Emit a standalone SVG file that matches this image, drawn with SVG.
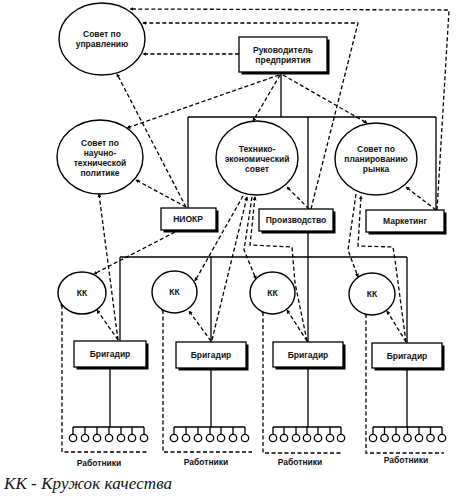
<svg xmlns="http://www.w3.org/2000/svg" width="456" height="497" viewBox="0 0 456 497">
<defs>
<marker id="a" viewBox="0 0 6 6" refX="5" refY="3" markerWidth="4" markerHeight="4" orient="auto" markerUnits="userSpaceOnUse"><path d="M0,0 L6,3 L0,6 Z" fill="#000"/></marker>
</defs>
<style>
.e{fill:#fff;stroke:#000;stroke-width:1.4}
.b{fill:#fff;stroke:#000;stroke-width:1.3}
.sh{fill:#000}
.s{fill:none;stroke:#000;stroke-width:1.3}
.d{fill:none;stroke:#000;stroke-width:1.3;stroke-dasharray:4 2.5}
.da{fill:none;stroke:#000;stroke-width:1.3;stroke-dasharray:4 2.5;marker-end:url(#a)}
.t{font-family:"Liberation Sans",Arial,sans-serif;font-weight:bold;font-size:8.5px;text-anchor:middle;fill:#111}
.w{fill:#fff;stroke:#000;stroke-width:1.3}
</style>
<rect width="456" height="497" fill="#fff"/>
<g id="connectors">
<path class="s" d="M281,72 V117 M188,117 H436 M188,117 V208 M308,117 V209 M436,117 V210 M308,231 V342 M120,257 H407 M120,257 V341 M211,257 V342 M407,257 V343"/>
<path class="s" d="M110,367 V427 M73,427 H144 M211,368 V427 M174,427 H245 M308,367 V427 M273,427 H341 M407,368 V427 M373,427 H442"/>
<path class="da" d="M437,210 L449,10 L130,9"/>
<path class="da" d="M311,209 L358,23 L143,23"/>
<path class="da" d="M239,54 L143,54"/>
<path class="da" d="M186,207 L117,74"/>
<path class="da" d="M279,75 L127,128"/>
<path class="da" d="M280,75 L253,121"/>
<path class="da" d="M283,75 L367,123"/>
<path class="da" d="M186,207 L136,180"/>
<path class="da" d="M118,340 L99,194"/>
<path class="da" d="M175,232 L94,274"/>
<path class="da" d="M118,340 L97,310"/>
<path class="da" d="M243,196 L195,281"/>
<path class="da" d="M212,340 L247,197"/>
<path class="da" d="M252,197 L244,250 L256,279"/>
<path class="da" d="M307,341 L295,283 L292,247 L250,245 L255,197"/>
<path class="da" d="M309,209 L287,187"/>
<path class="da" d="M356,194 L348,250 L358,277"/>
<path class="da" d="M406,342 L395,260 L393,247 L358,246 L361,196"/>
<path class="da" d="M436,210 L406,187"/>
<path class="da" d="M211,341 L189,311"/>
<path class="da" d="M307,341 L287,310"/>
<path class="da" d="M406,342 L387,311"/>
<path class="d" d="M62,305 V452 H148 M163,310 V452 H252 M263,312 V453 H343 M366,314 V453 H444"/>
<circle cx="62" cy="305" r="1.6"/>
<circle cx="163" cy="310" r="1.6"/>
<circle cx="263" cy="312" r="1.6"/>
<circle cx="366" cy="314" r="1.6"/>
</g>
<g id="sovet-upravlenie">
<ellipse class="e" cx="102" cy="39" rx="43" ry="36"/>
<text class="t" x="102" y="37">Совет по</text>
<text class="t" x="102" y="47">управлению</text>
</g>
<g id="rukovoditel">
<rect class="sh" x="241.5" y="39.5" width="88" height="35"/>
<rect class="b" x="239" y="37" width="88" height="35"/>
<text class="t" x="283" y="53">Руководитель</text>
<text class="t" x="283" y="63">предприятия</text>
</g>
<g id="sovet-nauchno">
<ellipse class="e" cx="100" cy="157" rx="43" ry="37"/>
<text class="t" x="100" y="146">Совет по</text>
<text class="t" x="100" y="156">научно-</text>
<text class="t" x="100" y="166">технической</text>
<text class="t" x="100" y="176">политике</text>
</g>
<g id="tekhniko">
<ellipse class="e" cx="257" cy="158" rx="41" ry="37"/>
<text class="t" x="257" y="152">Технико-</text>
<text class="t" x="257" y="162">экономический</text>
<text class="t" x="257" y="172">совет</text>
</g>
<g id="sovet-rynok">
<ellipse class="e" cx="376" cy="159" rx="41" ry="36"/>
<text class="t" x="376" y="152">Совет по</text>
<text class="t" x="376" y="162">планированию</text>
<text class="t" x="376" y="172">рынка</text>
</g>
<g id="niokr">
<rect class="sh" x="163.5" y="210.5" width="55" height="22"/>
<rect class="b" x="161" y="208" width="55" height="22"/>
<text class="t" x="188" y="222">НИОКР</text>
</g>
<g id="proizvodstvo">
<rect class="sh" x="261.5" y="211.5" width="74" height="22"/>
<rect class="b" x="259" y="209" width="74" height="22"/>
<text class="t" x="296" y="223">Производство</text>
</g>
<g id="marketing">
<rect class="sh" x="368.5" y="212.5" width="78" height="22"/>
<rect class="b" x="366" y="210" width="78" height="22"/>
<text class="t" x="405" y="224">Маркетинг</text>
</g>
<g id="kk1">
<ellipse class="e" cx="82" cy="293" rx="24" ry="21"/>
<text class="t" x="82" y="296">КК</text>
</g>
<g id="kk2">
<ellipse class="e" cx="174.5" cy="292" rx="22.5" ry="21"/>
<text class="t" x="174.5" y="295">КК</text>
</g>
<g id="kk3">
<ellipse class="e" cx="272.5" cy="293" rx="22.5" ry="21"/>
<text class="t" x="272.5" y="296">КК</text>
</g>
<g id="kk4">
<ellipse class="e" cx="372" cy="294" rx="23" ry="21"/>
<text class="t" x="372" y="297">КК</text>
</g>
<g id="brigadir1">
<rect class="sh" x="76.5" y="343.5" width="72" height="26"/>
<rect class="b" x="74" y="341" width="72" height="26"/>
<text class="t" x="110" y="357">Бригадир</text>
</g>
<g id="brigadir2">
<rect class="sh" x="178.5" y="344.5" width="70" height="26"/>
<rect class="b" x="176" y="342" width="70" height="26"/>
<text class="t" x="211" y="358">Бригадир</text>
</g>
<g id="brigadir3">
<rect class="sh" x="275.5" y="344.5" width="70" height="25"/>
<rect class="b" x="273" y="342" width="70" height="25"/>
<text class="t" x="308" y="358">Бригадир</text>
</g>
<g id="brigadir4">
<rect class="sh" x="374.5" y="345.5" width="70" height="25"/>
<rect class="b" x="372" y="343" width="70" height="25"/>
<text class="t" x="407" y="359">Бригадир</text>
</g>
<g id="workers1">
<path class="s" d="M73,427V434M85,427V434M97,427V434M109,427V434M121,427V434M132,427V434M144,427V434"/>
<circle class="w" cx="73" cy="438" r="3.7"/><circle class="w" cx="85" cy="438" r="3.7"/><circle class="w" cx="97" cy="438" r="3.7"/><circle class="w" cx="109" cy="438" r="3.7"/><circle class="w" cx="121" cy="438" r="3.7"/><circle class="w" cx="132" cy="438" r="3.7"/><circle class="w" cx="144" cy="438" r="3.7"/>
<text class="t" x="99" y="466">Работники</text>
</g>
<g id="workers2">
<path class="s" d="M174,427V434M186,427V434M198,427V434M210,427V434M221,427V434M233,427V434M245,427V434"/>
<circle class="w" cx="174" cy="438" r="3.7"/><circle class="w" cx="186" cy="438" r="3.7"/><circle class="w" cx="198" cy="438" r="3.7"/><circle class="w" cx="210" cy="438" r="3.7"/><circle class="w" cx="221" cy="438" r="3.7"/><circle class="w" cx="233" cy="438" r="3.7"/><circle class="w" cx="245" cy="438" r="3.7"/>
<text class="t" x="206" y="465">Работники</text>
</g>
<g id="workers3">
<path class="s" d="M273,427V434M284,427V434M296,427V434M307,427V434M318,427V434M330,427V434M341,427V434"/>
<circle class="w" cx="273" cy="438" r="3.7"/><circle class="w" cx="284" cy="438" r="3.7"/><circle class="w" cx="296" cy="438" r="3.7"/><circle class="w" cx="307" cy="438" r="3.7"/><circle class="w" cx="318" cy="438" r="3.7"/><circle class="w" cx="330" cy="438" r="3.7"/><circle class="w" cx="341" cy="438" r="3.7"/>
<text class="t" x="300" y="465">Работники</text>
</g>
<g id="workers4">
<path class="s" d="M373,427V434M384.5,427V434M396,427V434M407.5,427V434M419,427V434M430.5,427V434M442,427V434"/>
<circle class="w" cx="373" cy="438" r="3.7"/><circle class="w" cx="384.5" cy="438" r="3.7"/><circle class="w" cx="396" cy="438" r="3.7"/><circle class="w" cx="407.5" cy="438" r="3.7"/><circle class="w" cx="419" cy="438" r="3.7"/><circle class="w" cx="430.5" cy="438" r="3.7"/><circle class="w" cx="442" cy="438" r="3.7"/>
<text class="t" x="406" y="463">Работники</text>
</g>
<g id="legend">
<text x="4" y="489" font-family="'Liberation Serif','Times New Roman',serif" font-style="italic" font-size="17" textLength="168" lengthAdjust="spacing" fill="#111">КК - Кружок качества</text>
</g>
</svg>
